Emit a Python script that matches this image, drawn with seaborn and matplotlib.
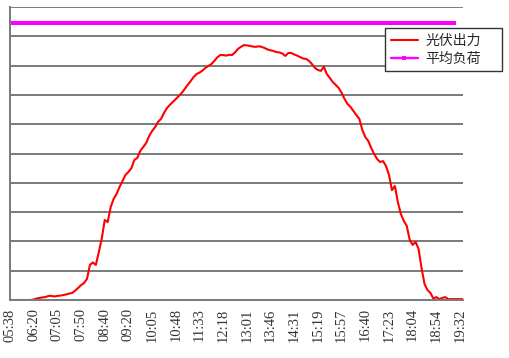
import numpy as np
import pandas as pd
import matplotlib
matplotlib.use("Agg")
import matplotlib.pyplot as plt
import seaborn as sns

# --- data -------------------------------------------------------------
tick_labels = ["05:38", "06:20", "07:05", "07:50", "08:40", "09:20", "10:05",
               "10:48", "11:33", "12:18", "13:01", "13:46", "14:31", "15:19",
               "15:57", "16:40", "17:23", "18:04", "18:54", "19:32"]
samples_per_label = 8

pv_output = [
    0, 0, 0, 0, 0, 0, 0, 0, 0.2, 0.5,
    0.7, 0.9, 1.0, 1.4, 1.4, 1.2, 1.4, 1.5, 1.7, 1.9,
    2.2, 2.4, 3.2, 4.1, 5.1, 5.8, 7.2, 12.0, 12.8, 12.0,
    16.4, 21.0, 27.3, 26.6, 31.7, 34.5, 36.2, 38.6, 40.6, 42.7,
    43.7, 45.0, 47.8, 48.5, 50.9, 52.2, 53.6, 56.0, 57.7, 59.0,
    60.8, 61.8, 63.8, 65.5, 66.6, 67.6, 68.6, 69.6, 70.7, 72.0,
    73.4, 74.7, 76.1, 77.1, 77.6, 78.3, 79.2, 79.9, 80.5, 81.6,
    82.8, 83.6, 83.6, 83.4, 83.7, 83.6, 84.5, 85.7, 86.4, 87.0,
    86.9, 86.7, 86.5, 86.4, 86.6, 86.4, 86.0, 85.5, 85.2, 85.0,
    84.6, 84.5, 84.1, 83.3, 84.3, 84.3, 83.8, 83.4, 82.9, 82.4,
    82.3, 81.6, 80.5, 79.2, 78.5, 78.2, 79.6, 77.1, 75.8, 74.4,
    73.4, 72.4, 70.7, 68.6, 66.9, 65.9, 64.5, 63.1, 61.8, 58.0,
    55.6, 54.3, 51.9, 49.8, 48.1, 47.1, 47.4, 45.7, 42.7, 37.5,
    38.9, 33.4, 29.4, 27.0, 25.3, 20.5, 18.8, 19.8, 17.4, 10.9,
    5.5, 3.4, 2.4, 0.5, 1.0, 0.3, 0.7, 1.0, 0.3, 0.3,
    0.3, 0.3, 0.3, 0.3,
]
avg_load_value = 94.6
avg_load_len = 151

n = len(pv_output)
idx = np.arange(n)
avg_load = [avg_load_value] * avg_load_len + [np.nan] * (n - avg_load_len)

df = pd.DataFrame({"idx": idx, "光伏出力": pv_output, "平均负荷": avg_load})

# --- plot -------------------------------------------------------------
sns.set_style("white")
plt.rcParams['font.family'] = ['Noto Sans CJK SC', 'DejaVu Sans']

fig = plt.figure(figsize=(5.1, 3.58), dpi=100)
ax = fig.add_axes([10 / 510, 1 - 300 / 358, 453 / 510, 293 / 358])

sns.lineplot(data=df, x="idx", y="光伏出力", ax=ax, color="#ff0000",
             linewidth=1.5, label="光伏出力")
sns.lineplot(data=df, x="idx", y="平均负荷", ax=ax, color="#ff00ff",
             linewidth=1.7, marker="s", markersize=2.4, markeredgewidth=0,
             label="平均负荷")

ax.set_xlim(0, n - 1)
ax.set_ylim(0, 100)
ax.set_yticks(np.arange(0, 101, 10))
ax.set_yticklabels([])
ax.tick_params(axis="y", length=0)
ax.grid(axis="y", color="#7a7a7a", linewidth=1.4)
ax.set_axisbelow(True)

label_pos = np.arange(len(tick_labels)) * samples_per_label
ax.set_xticks(label_pos)
ax.set_xticklabels(tick_labels, rotation=90, fontsize=10.5,
                   family=["Liberation Serif"], color="#333333")
ax.set_xticks(idx, minor=True)
ax.tick_params(axis="x", which="major", length=3, width=0.8, color="#555555", pad=3)
ax.tick_params(axis="x", which="minor", length=2.5, width=0.8, color="#555555")
ax.set_xlabel("")
ax.set_ylabel("")

for side in ["top", "right"]:
    ax.spines[side].set_visible(False)
for side in ["left", "bottom"]:
    ax.spines[side].set_color("#7a7a7a")
    ax.spines[side].set_linewidth(1.4)

handles, labels = ax.get_legend_handles_labels()
ax.get_legend().remove()
leg = fig.legend(handles, labels, loc="upper left",
                 bbox_to_anchor=(385 / 510, 1 - 70 / 358, 117 / 510, 42 / 358),
                 mode="expand",
                 fontsize=10, frameon=True, fancybox=False, framealpha=1,
                 edgecolor="#333333", borderpad=0.4, handlelength=2.0,
                 handletextpad=0.5, labelspacing=0.3, borderaxespad=0)
leg.get_frame().set_linewidth(1.0)
leg.set_zorder(10)

fig.savefig("out.png", dpi=100)
